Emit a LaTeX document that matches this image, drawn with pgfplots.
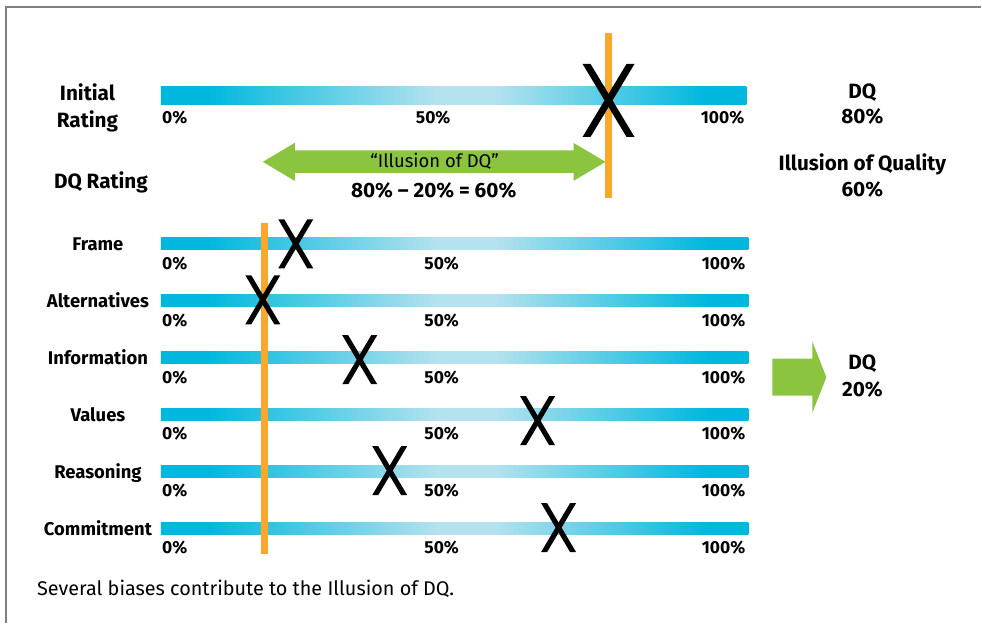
\documentclass[border=0pt]{standalone}
\usepackage{pgfplots}
\pgfplotsset{compat=1.18}
\usepackage{fontspec}
\setmainfont{Fira Sans}
\definecolor{cdark}{RGB}{0,184,222}
\definecolor{clight}{RGB}{180,226,238}
\definecolor{corange}{RGB}{249,168,43}
\definecolor{cgreen}{RGB}{139,197,63}
\definecolor{cborder}{RGB}{128,128,128}
\tikzset{every node/.append style={inner sep=0pt}}
\pgfdeclarehorizontalshading{barshade}{100bp}{color(0bp)=(cdark); color(25bp)=(cdark); color(29bp)=(cdark); color(48.5bp)=(clight); color(53.5bp)=(clight); color(71.5bp)=(cdark); color(75bp)=(cdark); color(100bp)=(cdark)}
\pgfdeclareplotmark{bigX}{%
  \pgfpathmoveto{\pgfqpoint{-26bp}{36.5bp}}%
  \pgfpathlineto{\pgfqpoint{-18bp}{36.5bp}}%
  \pgfpathlineto{\pgfqpoint{26bp}{-36.5bp}}%
  \pgfpathlineto{\pgfqpoint{18bp}{-36.5bp}}%
  \pgfpathclose\pgfusepathqfill
  \pgfpathmoveto{\pgfqpoint{26bp}{36.5bp}}%
  \pgfpathlineto{\pgfqpoint{18bp}{36.5bp}}%
  \pgfpathlineto{\pgfqpoint{-26bp}{-36.5bp}}%
  \pgfpathlineto{\pgfqpoint{-18bp}{-36.5bp}}%
  \pgfpathclose\pgfusepathqfill}
\pgfdeclareplotmark{smallX}{%
  \pgfpathmoveto{\pgfqpoint{-17.5bp}{24.5bp}}%
  \pgfpathlineto{\pgfqpoint{-11.5bp}{24.5bp}}%
  \pgfpathlineto{\pgfqpoint{17.5bp}{-24.5bp}}%
  \pgfpathlineto{\pgfqpoint{11.5bp}{-24.5bp}}%
  \pgfpathclose\pgfusepathqfill
  \pgfpathmoveto{\pgfqpoint{17.5bp}{24.5bp}}%
  \pgfpathlineto{\pgfqpoint{11.5bp}{24.5bp}}%
  \pgfpathlineto{\pgfqpoint{-17.5bp}{-24.5bp}}%
  \pgfpathlineto{\pgfqpoint{-11.5bp}{-24.5bp}}%
  \pgfpathclose\pgfusepathqfill}
\def\fbig{\fontsize{20.8}{24}\bfseries\selectfont}
\def\frow{\fontsize{18.5}{22}\bfseries\selectfont}
\def\fpct{\fontsize{17.5}{20}\bfseries\selectfont}
\begin{document}
\begin{tikzpicture}
\begin{axis}[width=982bp, height=623bp, scale only axis,
  xmin=0, xmax=982, ymin=0, ymax=623, y dir=reverse,
  axis lines=none, ticks=none, clip=false]
% background and frame
\addplot[draw=none, fill=white] coordinates {(0,0) (982,0) (982,623) (0,623)};
\addplot[cborder, line width=1.5bp] coordinates {(6,623) (6,7) (982,7)};
% bars
\addplot[draw=none, shading=barshade, shade] coordinates {(161,87) (747,87) (747,105) (161,105)};
\addplot[draw=none, shading=barshade, shade] coordinates {(161,238) (749,238) (749,250) (161,250)};
\addplot[draw=none, shading=barshade, shade] coordinates {(161,295) (749,295) (749,307) (161,307)};
\addplot[draw=none, shading=barshade, shade] coordinates {(161,352) (749,352) (749,364) (161,364)};
\addplot[draw=none, shading=barshade, shade] coordinates {(161,409) (749,409) (749,421) (161,421)};
\addplot[draw=none, shading=barshade, shade] coordinates {(161,466) (749,466) (749,478) (161,478)};
\addplot[draw=none, shading=barshade, shade] coordinates {(161,523) (749,523) (749,535) (161,535)};
% green arrows
\addplot[draw=none, fill=cgreen] coordinates {(263,162) (295,143) (295,150.5) (574,150.5) (574,143) (606,162) (574,181) (574,173) (295,173) (295,181)};
\addplot[draw=none, fill=cgreen] coordinates {(773,359) (813,359) (813,342) (827,377.5) (813,413) (813,396) (773,396)};
% X marks
\addplot[only marks, mark=bigX, black, mark options={fill=black}] coordinates {(609,100.5)};
\addplot[only marks, mark=smallX, black, mark options={fill=black}] coordinates {(296,244) (263,300) (360,360) (538,421) (390,471) (559,528)};
% orange lines
\addplot[corange, line width=7bp] coordinates {(608.5,33) (608.5,198)};
\addplot[corange, line width=7bp] coordinates {(264.5,223) (264.5,554)};
% texts
\node[font=\fbig, anchor=base] at (axis cs:87.5,100.7) {Initial};
\node[font=\fbig, anchor=base] at (axis cs:87.5,127.7) {Rating};
\node[font=\fbig, anchor=base] at (axis cs:101,189) {DQ Rating};
\node[font=\fbig, anchor=base] at (axis cs:863,99) {DQ};
\node[font=\fbig, anchor=base] at (axis cs:863,124) {80\%};
\node[font=\fbig, anchor=base] at (axis cs:863,170.7) {Illusion of Quality};
\node[font=\fbig, anchor=base] at (axis cs:863,196.7) {60\%};
\node[font=\fbig, anchor=base] at (axis cs:863,369.3) {DQ};
\node[font=\fbig, anchor=base] at (axis cs:863,396.7) {20\%};
\node[font=\fontsize{18.5}{22}\selectfont, anchor=base] at (axis cs:435,168) {“Illusion of DQ”};
\node[font=\fbig, anchor=base] at (axis cs:434,198) {80\% – 20\% = 60\%};
\node[font=\fpct, anchor=base west] at (axis cs:162,124) {0\%};
\node[font=\fpct, anchor=base] at (axis cs:433.5,124) {50\%};
\node[font=\fpct, anchor=base east] at (axis cs:745,124) {100\%};
% row labels
\node[font=\frow, anchor=base] at (axis cs:98,250.7) {Frame};
\node[font=\frow, anchor=base] at (axis cs:98,307.7) {Alternatives};
\node[font=\frow, anchor=base] at (axis cs:98,364.7) {Information};
\node[font=\frow, anchor=base] at (axis cs:98,421.7) {Values};
\node[font=\frow, anchor=base] at (axis cs:98,478.7) {Reasoning};
\node[font=\frow, anchor=base] at (axis cs:98,535.7) {Commitment};
% row percent labels
\node[font=\fpct, anchor=base west] at (axis cs:162,269.3) {0\%};
\node[font=\fpct, anchor=base] at (axis cs:442,269.3) {50\%};
\node[font=\fpct, anchor=base east] at (axis cs:746,269.3) {100\%};
\node[font=\fpct, anchor=base west] at (axis cs:162,326.3) {0\%};
\node[font=\fpct, anchor=base] at (axis cs:442,326.3) {50\%};
\node[font=\fpct, anchor=base east] at (axis cs:746,326.3) {100\%};
\node[font=\fpct, anchor=base west] at (axis cs:162,383.3) {0\%};
\node[font=\fpct, anchor=base] at (axis cs:442,383.3) {50\%};
\node[font=\fpct, anchor=base east] at (axis cs:746,383.3) {100\%};
\node[font=\fpct, anchor=base west] at (axis cs:162,440.3) {0\%};
\node[font=\fpct, anchor=base] at (axis cs:442,440.3) {50\%};
\node[font=\fpct, anchor=base east] at (axis cs:746,440.3) {100\%};
\node[font=\fpct, anchor=base west] at (axis cs:162,497.3) {0\%};
\node[font=\fpct, anchor=base] at (axis cs:442,497.3) {50\%};
\node[font=\fpct, anchor=base east] at (axis cs:746,497.3) {100\%};
\node[font=\fpct, anchor=base west] at (axis cs:162,554.3) {0\%};
\node[font=\fpct, anchor=base] at (axis cs:442,554.3) {50\%};
\node[font=\fpct, anchor=base east] at (axis cs:746,554.3) {100\%};
% caption
\node[font=\fontsize{19.9}{24}\selectfont, anchor=base west] at (axis cs:37,596) {Several biases contribute to the Illusion of DQ.};
\end{axis}
\end{tikzpicture}
\end{document}
